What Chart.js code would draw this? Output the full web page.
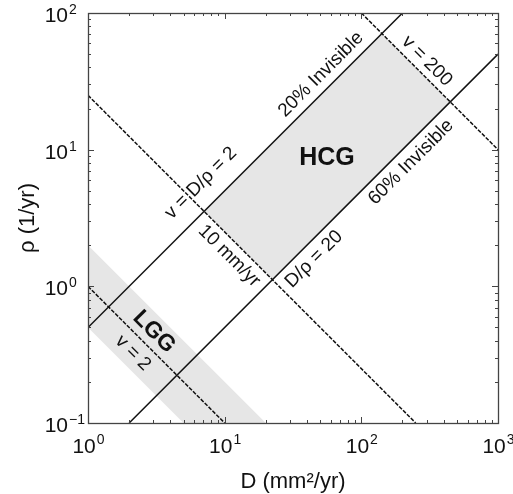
<!DOCTYPE html>
<html>
<head>
<meta charset="utf-8">
<script src="https://cdn.jsdelivr.net/npm/chart.js@4"></script>
<style>
	body { margin: 0; background: #fff; }
</style>
</head>
<body>
<canvas id="myChart" width="513" height="494"></canvas>
<script>

// axis ticks
const xTicks = [1, 10, 100, 1000]
const xTickExp = ['0', '1', '2', '3']
const yTicks = [0.1, 1, 10, 100]
const yTickExp = ['\u22121', '0', '1', '2']

// lines, D values and rho values of the end points
const ratio2D = [1, 200]
const ratio2Rho = [0.5, 100]
const ratio20D = [2, 1000]
const ratio20Rho = [0.1, 50]
const v200D = [100, 1000]
const v200Rho = [100, 10]
const v10D = [1, 250]
const v10Rho = [25, 0.1]
const v2D = [1, 10]
const v2Rho = [1, 0.1]

// shaded regions
const hcgD = [7.07, 141, 447, 22.4, 7.07]
const hcgRho = [3.54, 70.7, 22.4, 1.12, 3.54]
const lggD = [1, 20, 5, 1, 1]
const lggRho = [2, 0.1, 0.1, 0.5, 2]

// text along the lines
const notes = [
	{ text: 'v = D/\u03c1 = 2', x: 6.7, y: 5.7, rot: -45 },
	{ text: '20% Invisible', x: 50.7, y: 35.5, rot: -45 },
	{ text: 'v = 200', x: 302, y: 44.5, rot: 45 },
	{ text: '60% Invisible', x: 231, y: 8.1, rot: -45 },
	{ text: 'D/\u03c1 = 20', x: 45.1, y: 1.58, rot: -45 },
	{ text: '10 mm/yr', x: 10.8, y: 1.667, rot: 45 },
	{ text: 'v = 2', x: 2.13, y: 0.325, rot: 45 },
	{ text: 'HCG', x: 56.1, y: 8.69, rot: 0, bold: true, size: 25 },
	{ text: 'LGG', x: 3.04, y: 0.464, rot: 45, bold: true, size: 23 }
]

function pts(xs, ys) {
	return xs.map((x, i) => ({ x: x, y: ys[i] }))
}

const FONT = '"Liberation Sans", Arial, sans-serif'

function lineSet(xs, ys, dashed) {
	return {
		data: pts(xs, ys),
		showLine: true,
		pointRadius: 0,
		borderColor: '#111',
		borderWidth: 1.5,
		borderDash: dashed ? [4, 1.5] : [],
		fill: false,
		order: 0
	}
}

function regionSet(xs, ys) {
	return {
		data: pts(xs, ys),
		showLine: true,
		pointRadius: 0,
		borderWidth: 0,
		borderColor: 'rgba(0,0,0,0)',
		backgroundColor: '#e6e6e6',
		fill: 'shape',
		order: 10
	}
}

const frame = {
	id: 'frame',
	afterDatasetsDraw(chart) {
		const ctx = chart.ctx
		const a = chart.chartArea
		const sx = chart.scales.x
		const sy = chart.scales.y
		ctx.save()
		ctx.strokeStyle = '#444'
		ctx.lineWidth = 1.3
		ctx.strokeRect(a.left + 0.5, a.top + 0.5, a.right - a.left, a.bottom - a.top)
		// inward ticks on all sides
		ctx.lineWidth = 1
		for (let i = 0; i < xTicks.length; i++) {
			for (let k = 1; k <= 9; k++) {
				const v = xTicks[i] * k
				if (v > xTicks[xTicks.length - 1]) break
				const px = Math.round(sx.getPixelForValue(v)) + 0.5
				const len = k === 1 ? 6 : 3
				ctx.beginPath()
				ctx.moveTo(px, a.bottom); ctx.lineTo(px, a.bottom - len)
				ctx.moveTo(px, a.top); ctx.lineTo(px, a.top + len)
				ctx.stroke()
			}
		}
		for (let i = 0; i < yTicks.length; i++) {
			for (let k = 1; k <= 9; k++) {
				const v = yTicks[i] * k
				if (v > yTicks[yTicks.length - 1] * 1.0001) break
				const py = Math.round(sy.getPixelForValue(v)) + 0.5
				const len = k === 1 ? 6 : 3
				ctx.beginPath()
				ctx.moveTo(a.left, py); ctx.lineTo(a.left + len, py)
				ctx.moveTo(a.right, py); ctx.lineTo(a.right - len, py)
				ctx.stroke()
			}
		}
		ctx.restore()
	},
	afterDraw(chart) {
		const ctx = chart.ctx
		const a = chart.chartArea
		const sx = chart.scales.x
		const sy = chart.scales.y
		ctx.save()
		ctx.fillStyle = '#111'
		ctx.textBaseline = 'alphabetic'

		// x tick labels
		xTicks.forEach((v, i) => {
			const px = sx.getPixelForValue(v)
			ctx.font = '21px ' + FONT
			const w1 = ctx.measureText('10').width
			ctx.font = '14px ' + FONT
			const w2 = ctx.measureText(xTickExp[i]).width
			const x0 = px - (w1 + w2) / 2
			ctx.textAlign = 'left'
			ctx.font = '21px ' + FONT
			ctx.fillText('10', x0, a.bottom + 30)
			ctx.font = '14px ' + FONT
			ctx.fillText(xTickExp[i], x0 + w1 + 1, a.bottom + 21)
		})

		// y tick labels
		yTicks.forEach((v, i) => {
			const py = sy.getPixelForValue(v)
			ctx.font = '21px ' + FONT
			ctx.textAlign = 'right'
			ctx.fillText('10', a.left - 20, py + 9)
			ctx.font = '14px ' + FONT
			ctx.textAlign = 'left'
			ctx.fillText(yTickExp[i], a.left - 19, py + 1)
		})

		// axis titles
		ctx.font = '22px ' + FONT
		ctx.textAlign = 'center'
		ctx.fillText('D (mm\u00b2/yr)', (a.left + a.right) / 2, a.bottom + 65)
		ctx.save()
		ctx.translate(34, (a.top + a.bottom) / 2)
		ctx.rotate(-Math.PI / 2)
		ctx.fillText('\u03c1 (1/yr)', 0, 0)
		ctx.restore()

		// notes on the plot
		notes.forEach(n => {
			ctx.save()
			ctx.translate(sx.getPixelForValue(n.x), sy.getPixelForValue(n.y))
			ctx.rotate(n.rot * Math.PI / 180)
			ctx.font = (n.bold ? 'bold ' : '') + (n.size || 19) + 'px ' + FONT
			ctx.textAlign = 'center'
			ctx.textBaseline = 'middle'
			ctx.fillText(n.text, 0, 0)
			ctx.restore()
		})
		ctx.restore()
	}
}

new Chart(document.getElementById('myChart'), {
	type: 'scatter',
	data: {
		datasets: [
			lineSet(ratio2D, ratio2Rho, false),
			lineSet(ratio20D, ratio20Rho, false),
			lineSet(v200D, v200Rho, true),
			lineSet(v10D, v10Rho, true),
			lineSet(v2D, v2Rho, true),
			regionSet(hcgD, hcgRho),
			regionSet(lggD, lggRho)
		]
	},
	options: {
		responsive: false,
		animation: false,
		devicePixelRatio: 1,
		layout: { padding: { left: 88, top: 13, right: 15, bottom: 71 } },
		scales: {
			x: { type: 'logarithmic', min: 1, max: 1000, display: false },
			y: { type: 'logarithmic', min: 0.1, max: 100, display: false }
		},
		plugins: {
			legend: { display: false },
			tooltip: { enabled: false }
		}
	},
	plugins: [frame]
})

</script>
</body>
</html>
